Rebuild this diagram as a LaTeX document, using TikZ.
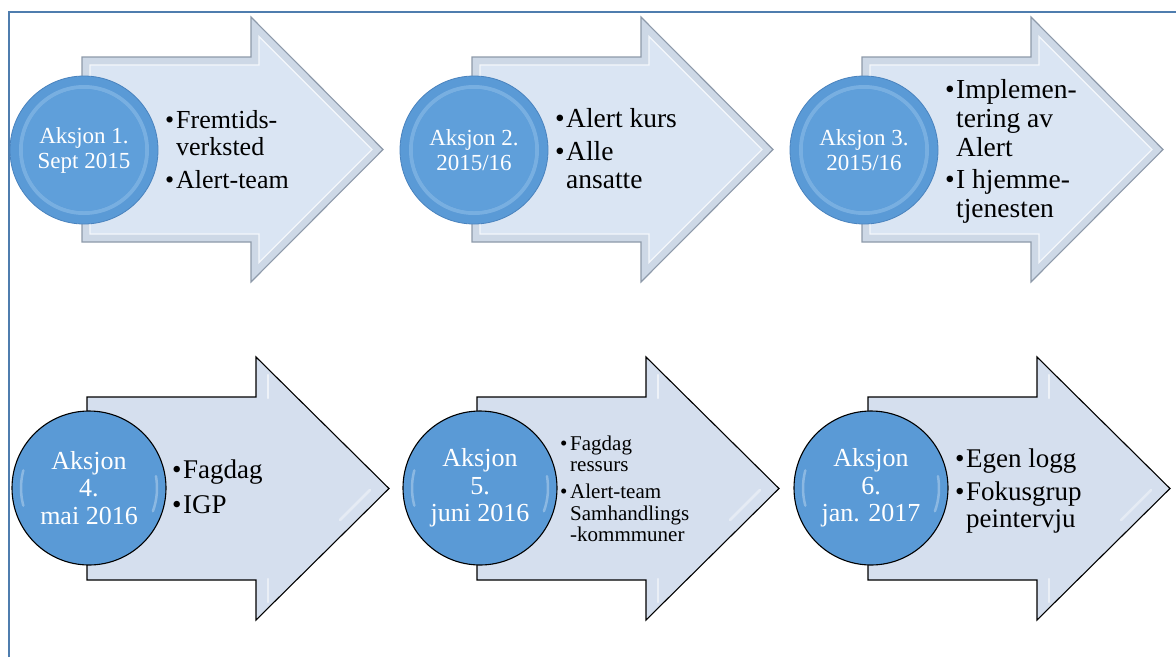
\documentclass[tikz,border=0pt]{standalone}
\usepackage{fontspec}
\setmainfont{Liberation Serif}
\usetikzlibrary{calc}
\definecolor{framecol}{HTML}{4F7DAE}
\definecolor{arrowfill}{HTML}{DAE5F3}
\definecolor{arrowband}{HTML}{CDD8E6}
\definecolor{arrowedge}{HTML}{8E9AAA}
\definecolor{barrowfill}{HTML}{D5DFEE}
\definecolor{circfill}{HTML}{5A9AD6}
\definecolor{circedge}{HTML}{4A83BE}
\definecolor{circring}{HTML}{8DBDE9}
\definecolor{circinner}{HTML}{5F9FDA}
\newcommand{\mybul}{\makebox[11pt][l]{\textbullet}}
\tikzset{
  toparrow/.style={fill=arrowband, draw=arrowedge, line width=1.1pt, line join=miter},
  topbevel/.style={fill=arrowfill, draw=white!70!arrowfill, line width=1.2pt},
  botarrow/.style={fill=barrowfill, draw=black, line width=1.1pt, line join=miter},
  topcirc/.style={circle, fill=circfill, draw=circedge, line width=0.8pt, minimum size=148pt, inner sep=0pt,
     text=white, align=center, font=\fontsize{23pt}{25pt}\selectfont},
  botcirc/.style={circle, fill=circfill, draw=black, line width=1.1pt, minimum size=154pt, inner sep=0pt,
     text=white, align=center, font=\fontsize{26pt}{27.5pt}\selectfont},
  ringline/.style={draw=circring, line width=4pt, opacity=0.6},
  glint/.style={draw=white, line width=2.5pt, opacity=0.3, line cap=round},
  bultext/.style={anchor=base west, inner sep=0pt, text=black},
}
\begin{document}
\begin{tikzpicture}[x=1pt,y=-1pt]
\useasboundingbox (0,0) rectangle (1176,657);
\fill[white] (0,0) rectangle (1176,657);
% frame
\draw[framecol, line width=2.5pt] (9,657) -- (9,12) -- (1177,12);

% top row arrows
\foreach \dx in {0,390,780}{
  \begin{scope}[shift={(\dx,0)}]
    \path[toparrow] (82,57) -- (251,57) -- (251,17) -- (383,149.5) -- (251,282) -- (251,242) -- (82,242) -- cycle;
    \path[topbevel] (90,65) -- (259,65) -- (259,36.5) -- (372,149.5) -- (259,262.5) -- (259,234) -- (90,234) -- cycle;
  \end{scope}
}
% bottom row arrows
\foreach \dx in {0,390,781}{
  \begin{scope}[shift={(\dx,0)}]
    \path[botarrow] (87,397) -- (256,397) -- (256,357) -- (389,488.5) -- (256,620) -- (256,580) -- (87,580) -- cycle;
    \draw[glint, opacity=0.6] (268,375) -- (268,398);
    \draw[glint, opacity=0.5] (268,602) -- (268,579);
    \draw[glint, opacity=0.4] (370,490) -- (340,520);
  \end{scope}
}

% top circles
\node[topcirc] (c1) at (84,150) {};
\node[topcirc] (c2) at (474,150) {};
\node[topcirc] (c3) at (864,150) {};
\foreach \c in {c1,c2,c3}{
  \draw[ringline] (\c.center) circle[radius=63pt];
  \fill[circinner] (\c.center) circle[radius=61pt];
}
\node[topcirc, draw=none, fill=none] (l1) at (c1.center) {Aksjon 1.\\Sept 2015};
\node[topcirc, draw=none, fill=none] (l2) at (c2.center) {Aksjon 2.\\2015/16};
\node[topcirc, draw=none, fill=none] (l3) at (c3.center) {Aksjon 3.\\2015/16};

% bottom circles
\node[botcirc] (c4) at (89,488) {Aksjon\\4.\\mai 2016};
\node[botcirc] (c5) at (480,488) {Aksjon\\5.\\juni 2016};
\node[botcirc] (c6) at (871,488) {Aksjon\\6.\\jan. 2017};
\foreach \c in {c4,c5,c6}{
  \draw[glint] ($(\c.center)+(165:68pt)$) arc[start angle=165, end angle=195, radius=68pt];
  \draw[glint] ($(\c.center)+(-20:68pt)$) arc[start angle=-20, end angle=10, radius=68pt];
}

% bullet texts
\node[bultext] (t1) at (165,128) {\fontsize{26pt}{27pt}\selectfont
  \begin{tabular}[t]{@{}l@{}l@{}}\mybul & Fremtids-\\ & verksted\\[6pt] \mybul & Alert-team\end{tabular}};
\node[bultext] (t2) at (555,127) {\fontsize{27.5pt}{28pt}\selectfont
  \begin{tabular}[t]{@{}l@{}l@{}}\mybul & Alert kurs\\[5pt] \mybul & Alle\\ & ansatte\end{tabular}};
\node[bultext] (t3) at (945,98) {\fontsize{27.5pt}{29pt}\selectfont
  \begin{tabular}[t]{@{}l@{}l@{}}\mybul & Implemen-\\ & tering av\\ & Alert\\[3pt] \mybul & I hjemme-\\ & tjenesten\end{tabular}};
\node[bultext] (t4) at (172,478) {\fontsize{27pt}{29pt}\selectfont
  \begin{tabular}[t]{@{}l@{}l@{}}\mybul & Fagdag\\[6pt] \mybul & IGP\end{tabular}};
\node[bultext] (t5) at (560,450) {\fontsize{21pt}{21.5pt}\selectfont
  \begin{tabular}[t]{@{}l@{}l@{}}\makebox[10pt][l]{\textbullet} & Fagdag\\ & ressurs\\[5.5pt] \makebox[10pt][l]{\textbullet} & Alert-team\\ & Samhandlings\\ & -kommmuner\end{tabular}};
\node[bultext] (t6) at (955,467) {\fontsize{27pt}{27.5pt}\selectfont
  \begin{tabular}[t]{@{}l@{}l@{}}\mybul & Egen logg\\[5.5pt] \mybul & Fokusgrup\\ & peintervju\end{tabular}};
\end{tikzpicture}
\end{document}
